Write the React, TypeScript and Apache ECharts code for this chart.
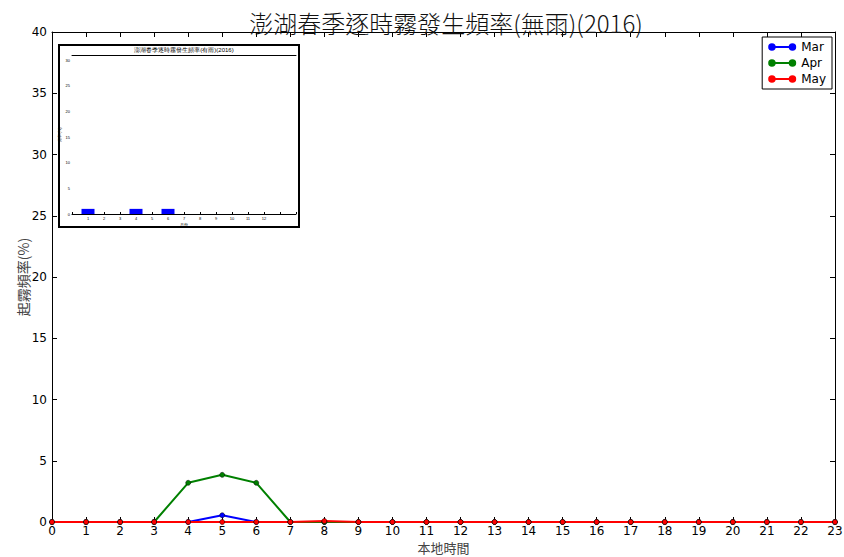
import React, { useEffect, useRef } from "react";
import * as echarts from "echarts";

const hours = Array.from({ length: 24 }, (_, i) => i);
const marValues = [0, 0, 0, 0, 0, 0.55, 0, 0, 0, 0, 0, 0, 0, 0, 0, 0, 0, 0, 0, 0, 0, 0, 0, 0];
const aprValues = [0, 0, 0, 0, 3.2, 3.85, 3.2, 0, 0, 0, 0, 0, 0, 0, 0, 0, 0, 0, 0, 0, 0, 0, 0, 0];
const mayValues = [0, 0, 0, 0, 0, 0, 0, 0, 0.08, 0, 0, 0, 0, 0, 0, 0, 0, 0, 0, 0, 0, 0, 0, 0];
const seriesNames = ["Mar", "Apr", "May"];
const insetPositions = [1, 4, 6];
const insetValues = [1, 1, 1];
const titleText = "澎湖春季逐時霧發生頻率(無雨)(2016)";
const insetTitle = "澎湖春季逐時霧發生頻率(有雨)(2016)";

const legendIcon =
  "path://M0,4 A4,4 0 1,1 8,4 A4,4 0 1,1 0,4 Z M4,3 L26,3 L26,5 L4,5 Z M22,4 A4,4 0 1,1 30,4 A4,4 0 1,1 22,4 Z";

export default function App() {
  const ref = useRef<HTMLDivElement>(null);
  useEffect(() => {
    document.body.style.margin = "0";
    const chart = echarts.init(ref.current!, null, { renderer: "svg" });
    const mk = (name: string, vals: number[], color: string) => ({
      name,
      type: "line",
      xAxisIndex: 0,
      yAxisIndex: 0,
      data: hours.map((h, i) => [h, vals[i]]),
      symbol: "circle",
      symbolSize: 5,
      showSymbol: true,
      lineStyle: { color, width: 2 },
      itemStyle: { color, borderColor: "#000", borderWidth: 0.5 },
      z: 3,
    });
    const sansFont = "DejaVu Sans";
    chart.setOption({
      animation: false,
      backgroundColor: "#fff",
      title: {
        text: titleText,
        left: 441,
        textAlign: "center",
        top: 5,
        textStyle: { fontFamily: "Noto Sans CJK TC", fontWeight: 300, fontSize: 24, color: "#111" },
      },
      legend: {
        data: seriesNames,
        orient: "vertical",
        right: 12,
        top: 37,
        borderColor: "#000",
        borderWidth: 1,
        padding: [4, 6, 4, 6],
        itemGap: 4,
        itemWidth: 28,
        itemHeight: 8,
        icon: legendIcon,
        itemStyle: { borderWidth: 0 },
        textStyle: { fontFamily: sansFont, fontSize: 12, color: "#000" },
        backgroundColor: "#fff",
      },
      grid: [
        { left: 52, right: 9, top: 32, bottom: 35, show: false, outerBoundsMode: "none", containLabel: false },
        { left: 72, right: 548, top: 55, bottom: 343, show: false, outerBoundsMode: "none", containLabel: false },
      ],
      xAxis: [
        {
          type: "value", gridIndex: 0, min: 0, max: 23, interval: 1,
          name: "本地時間", nameLocation: "middle", nameGap: 19, nameMoveOverlap: false,
          nameTextStyle: { fontFamily: "Noto Sans CJK TC", fontSize: 13, color: "#444" },
          axisLine: { show: true, onZero: false, lineStyle: { color: "#000", width: 1 } },
          axisTick: { show: true, inside: true, length: 5, lineStyle: { color: "#000" } },
          axisLabel: { fontFamily: sansFont, fontSize: 12, color: "#000", margin: 3 },
          splitLine: { show: false },
        },
        {
          type: "value", gridIndex: 0, min: 0, max: 23, interval: 1, position: "top",
          axisLine: { show: true, onZero: false, lineStyle: { color: "#000", width: 1 } },
          axisTick: { show: true, inside: true, length: 5, lineStyle: { color: "#000" } },
          axisLabel: { show: false },
          splitLine: { show: false },
        },
        {
          type: "value", gridIndex: 1, min: 0, max: 14, interval: 1,
          axisLine: { show: true, onZero: false, lineStyle: { color: "#000", width: 1 } },
          axisTick: { show: true, inside: true, length: 2, lineStyle: { color: "#000" } },
          axisLabel: {
            fontSize: 4, color: "#000", margin: 2,
            formatter: (v: number) => (v >= 1 && v <= 12 ? String(v) : ""),
          },
          name: "月份", nameLocation: "middle", nameGap: 8, nameTextStyle: { fontSize: 4, color: "#000" },
          splitLine: { show: false },
        },
        {
          type: "value", gridIndex: 1, min: 0, max: 14, interval: 1, position: "top",
          axisLine: { show: true, onZero: false, lineStyle: { color: "#000", width: 1 } },
          axisTick: { show: false },
          axisLabel: { show: false },
          splitLine: { show: false },
        },
      ],
      yAxis: [
        {
          type: "value", gridIndex: 0, min: 0, max: 40, interval: 5,
          name: "起霧頻率(%)", nameLocation: "middle", nameGap: 22, nameMoveOverlap: false,
          nameTextStyle: { fontFamily: "Noto Sans CJK TC", fontSize: 14, color: "#444" },
          axisLine: { show: true, onZero: false, lineStyle: { color: "#000", width: 1 } },
          axisTick: { show: true, inside: true, length: 5, lineStyle: { color: "#000" } },
          axisLabel: { fontFamily: sansFont, fontSize: 12, color: "#000", margin: 5 },
          splitLine: { show: false },
        },
        {
          type: "value", gridIndex: 0, min: 0, max: 40, interval: 5, position: "right",
          axisLine: { show: true, onZero: false, lineStyle: { color: "#000", width: 1 } },
          axisTick: { show: true, inside: true, length: 5, lineStyle: { color: "#000" } },
          axisLabel: { show: false },
          splitLine: { show: false },
        },
        {
          type: "value", gridIndex: 1, min: 0, max: 31, interval: 5,
          axisLine: { show: false },
          axisTick: { show: false },
          axisLabel: { fontSize: 4, color: "#000", margin: 2, showMaxLabel: false },
          name: "頻率(%)", nameLocation: "middle", nameGap: 8, nameTextStyle: { fontSize: 4, color: "#000" },
          splitLine: { show: false },
        },
      ],
      graphic: [
        {
          type: "rect", z: -10, shape: { x: 59, y: 45, width: 240, height: 182 },
          style: { fill: "#fff", stroke: "#000", lineWidth: 2 },
        },
        {
          type: "text", z: 10, x: 184, y: 47,
          style: { text: insetTitle, fontSize: 6, fill: "#000", textAlign: "center" },
        },
      ],
      series: [
        mk(seriesNames[0], marValues, "#0000ff"),
        mk(seriesNames[1], aprValues, "#008000"),
        mk(seriesNames[2], mayValues, "#ff0000"),
        {
          type: "bar",
          xAxisIndex: 2,
          yAxisIndex: 2,
          barWidth: 13,
          data: insetPositions.map((p, i) => [p, insetValues[i]]),
          itemStyle: { color: "#0000ff" },
          z: 5,
        },
      ],
    });
    return () => chart.dispose();
  }, []);
  return <div ref={ref} style={{ width: 844, height: 557 }} />;
}
